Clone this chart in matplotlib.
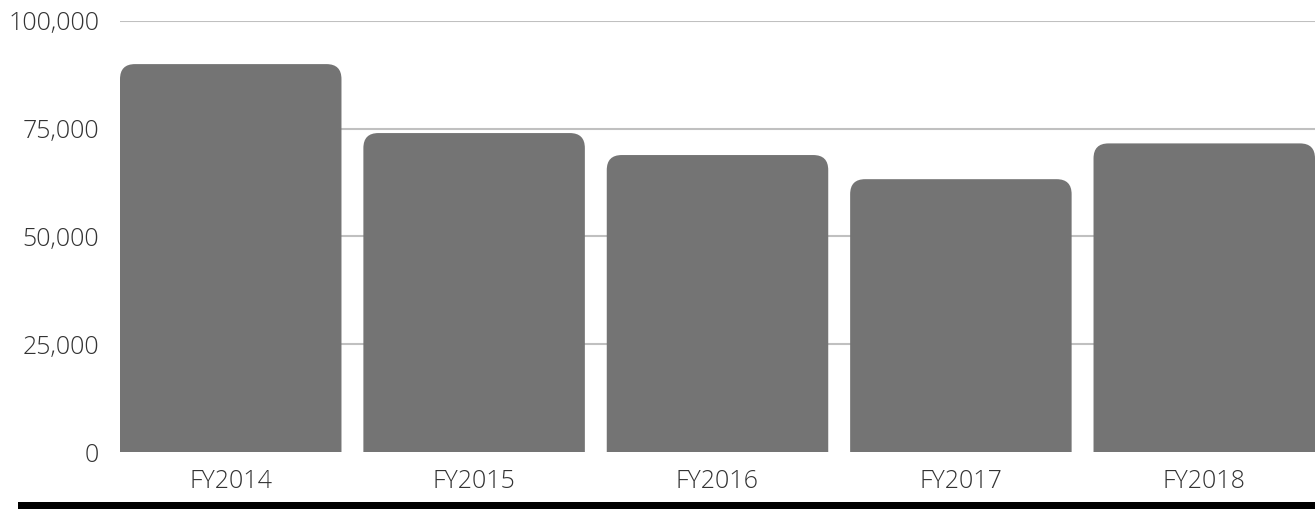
import matplotlib.pyplot as plt
from matplotlib.patches import PathPatch, Rectangle
from matplotlib.path import Path
from matplotlib.ticker import FuncFormatter

years = ['FY2014', 'FY2015', 'FY2016', 'FY2017', 'FY2018']
values = [90000, 74000, 68900, 63300, 71600]
yticks = [0, 25000, 50000, 75000, 100000]

W, H = 1315, 509
plt.rcParams['font.family'] = ['Open Sans', 'DejaVu Sans']
fig = plt.figure(figsize=(W / 100, H / 100), dpi=100)
ax = fig.add_axes([120 / W, 57 / H, 1195 / W, 431 / H])

bw = 0.91
ax.set_xlim(-bw / 2, len(years) - 1 + bw / 2)
ax.set_ylim(0, 100000)

# corner radius of 15 px, in data units for each axis
px_x = 1195 / (len(years) - 1 + bw)
px_y = 431 / 100000
rx = 15 / px_x
ry = 15 / px_y
color = '#747474'


def top_rounded_bar(x0, x1, h):
    verts = [(x0, 0), (x0, h - ry), (x0, h), (x0 + rx, h), (x1 - rx, h),
             (x1, h), (x1, h - ry), (x1, 0), (x0, 0)]
    codes = [Path.MOVETO, Path.LINETO, Path.CURVE3, Path.CURVE3, Path.LINETO,
             Path.CURVE3, Path.CURVE3, Path.LINETO, Path.CLOSEPOLY]
    return Path(verts, codes)


for i, v in enumerate(values):
    ax.add_patch(PathPatch(top_rounded_bar(i - bw / 2, i + bw / 2, v),
                           fc=color, ec='none', zorder=3))

ax.set_yticks(yticks)
ax.yaxis.set_major_formatter(FuncFormatter(lambda x, _: f'{int(x):,}'))
ax.set_xticks(range(len(years)))
ax.set_xticklabels(years)
ax.grid(axis='y', color='#c0c0c0', linewidth=1.5, zorder=0)
ax.yaxis.get_gridlines()[0].set_visible(False)
ax.tick_params(length=0, labelsize=18, colors='#333333')
ax.tick_params(axis='y', pad=15)
ax.tick_params(axis='x', pad=12)
for lab in ax.get_xticklabels() + ax.get_yticklabels():
    lab.set_fontweight('light')
for s in ax.spines.values():
    s.set_visible(False)

fig.add_artist(Rectangle((18 / W, 0), 1, 7 / H, transform=fig.transFigure,
                         fc='black', ec='none'))

fig.savefig('out.png', dpi=100)
